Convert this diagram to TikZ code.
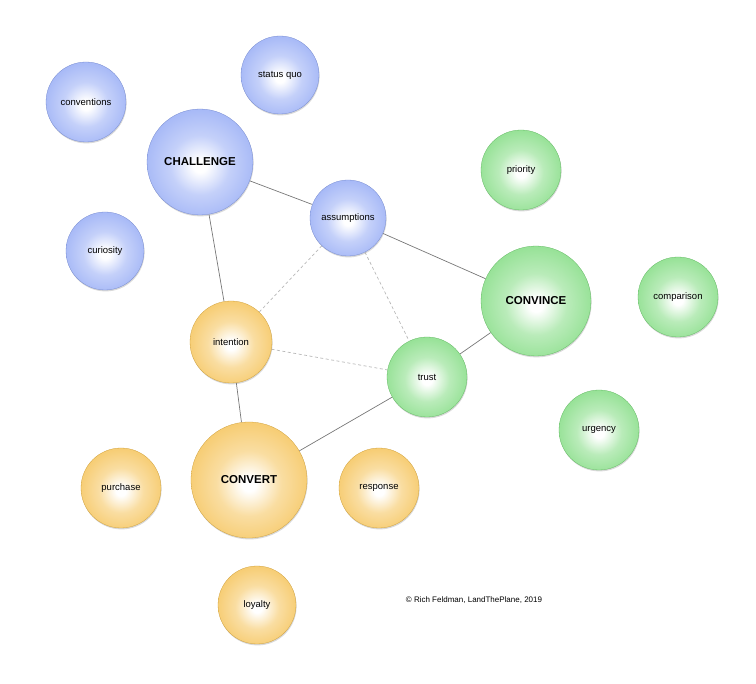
\documentclass[tikz,border=0pt]{standalone}
\usepackage{fontspec}
\setmainfont{Liberation Sans}
\usetikzlibrary{shadows,backgrounds}
\definecolor{bluec}{HTML}{8AA2F4}
\definecolor{greenc}{HTML}{74D874}
\definecolor{orangec}{HTML}{F4BC45}
\definecolor{linec}{HTML}{777777}
\definecolor{dashc}{HTML}{B8B8B8}
\pgfdeclareradialshading{blueball}{\pgfpoint{0bp}{-2bp}}{color(0bp)=(white); color(3bp)=(white); color(14bp)=(bluec!50!white); color(32bp)=(bluec!88!white); color(45bp)=(bluec); color(50bp)=(bluec!92!black)}
\pgfdeclareradialshading{greenball}{\pgfpoint{0bp}{-2bp}}{color(0bp)=(white); color(3bp)=(white); color(14bp)=(greenc!50!white); color(32bp)=(greenc!88!white); color(45bp)=(greenc); color(50bp)=(greenc!92!black)}
\pgfdeclareradialshading{orangeball}{\pgfpoint{0bp}{-2bp}}{color(0bp)=(white); color(3bp)=(white); color(14bp)=(orangec!50!white); color(32bp)=(orangec!88!white); color(45bp)=(orangec); color(50bp)=(orangec!92!black)}
\tikzset{
  ball/.style={circle, inner sep=0pt, font=\fontsize{9.5}{11}\selectfont, text=black,
    drop shadow={shadow xshift=0.6pt, shadow yshift=-1.4pt, opacity=0.3}},
  bigball/.style={ball, font=\fontsize{11.5}{13}\selectfont\bfseries},
  bl/.style={shading=blueball, draw=bluec!85!black, line width=0.3pt},
  gr/.style={shading=greenball, draw=greenc!85!black, line width=0.3pt},
  og/.style={shading=orangeball, draw=orangec!85!black, line width=0.3pt},
  link/.style={draw=linec, line width=0.7pt},
  dlink/.style={draw=dashc, line width=0.7pt, dash pattern=on 3pt off 2.5pt},
}
\begin{document}
\begin{tikzpicture}[x=1pt,y=-1pt]
\useasboundingbox (0,0) rectangle (756,684);
\node[ball,bl,minimum size=80pt] (conv) at (86,102) {conventions};
\node[ball,bl,minimum size=78pt] (sq) at (280,75) {status quo};
\node[bigball,bl,minimum size=106pt] (chal) at (200,162) {CHALLENGE};
\node[ball,bl,minimum size=78pt] (cur) at (105,251) {curiosity};
\node[ball,bl,minimum size=76pt] (ass) at (348,218) {assumptions};
\node[ball,gr,minimum size=80pt] (pri) at (521,170) {priority};
\node[bigball,gr,minimum size=110pt] (cvn) at (536,301) {CONVINCE};
\node[ball,gr,minimum size=80pt] (cmp) at (678,297) {comparison};
\node[ball,og,minimum size=82pt] (int) at (231,342) {intention};
\node[ball,gr,minimum size=80pt] (tr) at (427,377) {trust};
\node[ball,gr,minimum size=80pt] (urg) at (599,430) {urgency};
\node[bigball,og,minimum size=116pt] (cvt) at (249,480) {CONVERT};
\node[ball,og,minimum size=80pt] (pur) at (121,488) {purchase};
\node[ball,og,minimum size=80pt] (resp) at (379,488) {response};
\node[ball,og,minimum size=78pt] (loy) at (257,605) {loyalty};
\node[font=\fontsize{8}{10}\selectfont, text=black] (copy) at (474,600) {© Rich Feldman, LandThePlane, 2019};
\begin{scope}[on background layer]
\draw[link] (chal) -- (ass);
\draw[link] (chal) -- (int);
\draw[link] (ass) -- (cvn);
\draw[link] (cvn) -- (tr);
\draw[link] (tr) -- (cvt);
\draw[link] (int) -- (cvt);
\draw[dlink] (ass) -- (int);
\draw[dlink] (ass) -- (tr);
\draw[dlink] (int) -- (tr);
\end{scope}
\end{tikzpicture}
\end{document}
